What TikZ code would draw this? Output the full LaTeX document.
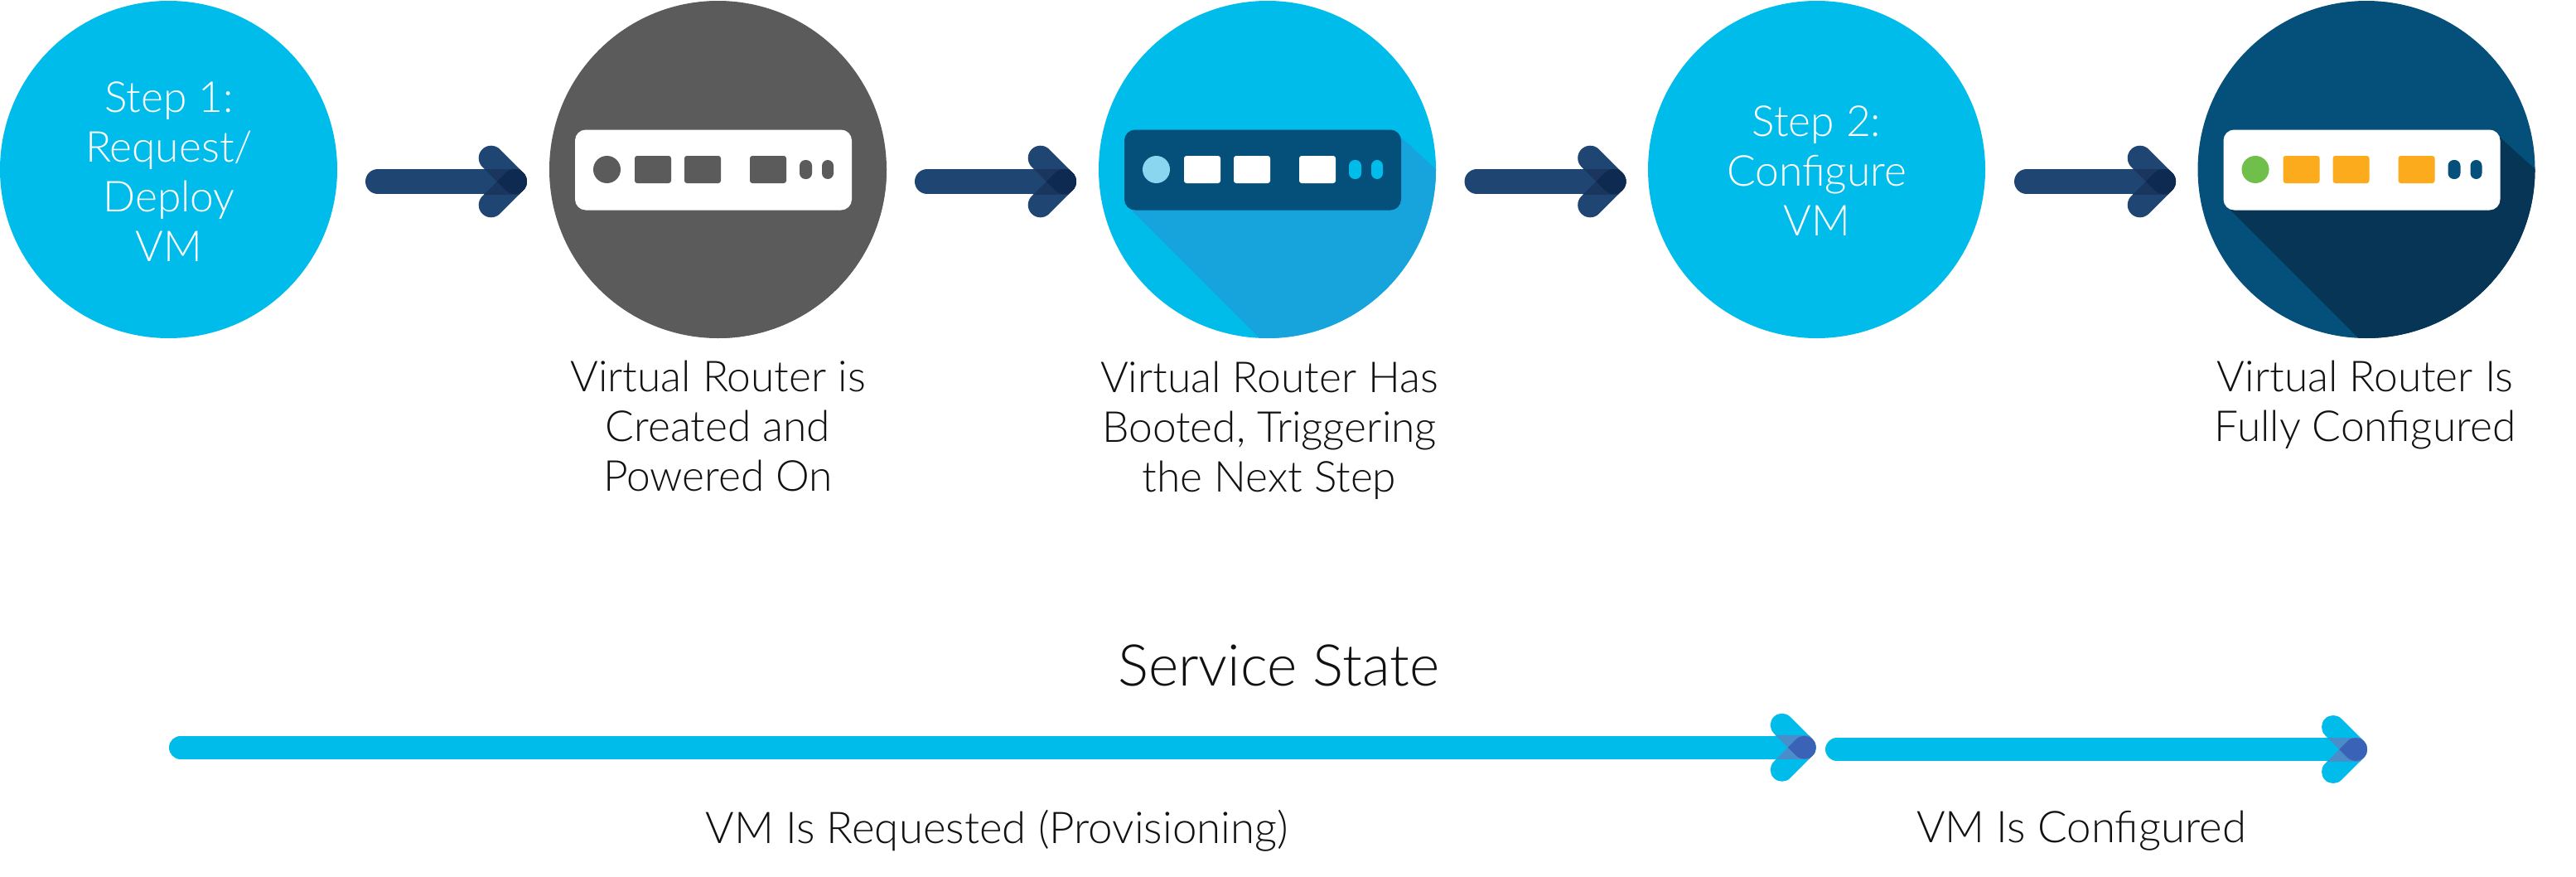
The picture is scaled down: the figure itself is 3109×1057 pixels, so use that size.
\documentclass[tikz,border=0pt]{standalone}
\usepackage{fontspec}
\setmainfont{Lato Light}
\usetikzlibrary{calc}
\definecolor{ciscyan}{HTML}{00BCEB}
\definecolor{cisgrey}{HTML}{5A5B5A}
\definecolor{cisdeep}{HTML}{04507A}
\definecolor{shadecyan}{HTML}{17A3DC}
\definecolor{shadedeep}{HTML}{073555}
\definecolor{ledpale}{HTML}{8AD5F0}
\definecolor{portorange}{HTML}{FCAB1C}
\definecolor{ledgreen}{HTML}{70BF4B}
\definecolor{navyarrow}{HTML}{1F4573}
\definecolor{navymid}{HTML}{1A365F}
\definecolor{navydark}{HTML}{0F2A50}
\definecolor{cyanmid}{HTML}{4A8DCB}
\definecolor{cyandark}{HTML}{3A63B8}
\definecolor{captionink}{HTML}{111111}
\tikzset{
  stepcircle/.style={circle,inner sep=0pt,minimum size=407pt},
  steptext/.style={align=center,text=white,inner sep=0pt,font=\fontsize{51.5}{60}\selectfont},
  captiontext/.style={align=center,text=captionink,inner sep=0pt,font=\fontsize{51.5}{60}\selectfont},
  statetext/.style={text=captionink,inner sep=0pt,font=\fontsize{52.8}{60}\selectfont},
}
% #1 circle name, #2 shadow, #3 body, #4 led, #5 port, #6 pill
\newcommand{\routerglyph}[6]{%
  \begin{scope}
    \clip (#1) circle (203.5);
    \fill[#2] ($(#1)+(-172,-14)$) -- ($(#1)+(-164,-49)$) -- ($(#1)+(-9,-204)$) -- ($(#1)+(210,-204)$) -- ($(#1)+(210,0)$) -- ($(#1)+(204,0)$) -- ($(#1)+(160,40)$) -- cycle;
  \end{scope}
  \fill[#3,rounded corners=13pt] ($(#1)+(-172.5,48)$) rectangle ($(#1)+(161.5,-49)$);
  \fill[#4] ($(#1)+(-134,0)$) circle (16.5);
  \fill[#5,rounded corners=3pt] ($(#1)+(-100.5,16.5)$) rectangle ($(#1)+(-56.5,-16.5)$);
  \fill[#5,rounded corners=3pt] ($(#1)+(-40.5,16.5)$) rectangle ($(#1)+(3.5,-16.5)$);
  \fill[#5,rounded corners=3pt] ($(#1)+(38.5,16.5)$) rectangle ($(#1)+(82.5,-16.5)$);
  \fill[#6,rounded corners=7pt] ($(#1)+(98.5,11.5)$) rectangle ($(#1)+(113.5,-11.5)$);
  \fill[#6,rounded corners=7pt] ($(#1)+(125.5,11.5)$) rectangle ($(#1)+(139.5,-11.5)$);
}
% #1 start, #2 tip centre, #3 half width, #4 chevron reach, #5 base, #6 mid, #7 dark
\newcommand{\flowarrow}[7]{%
  \pgfmathsetmacro{\arrA}{0.7071*#3}
  \pgfmathsetmacro{\arrB}{1.4142*#3}
  \pgfmathsetmacro{\arrW}{2*#3}
  \draw[#5,line width=\arrW pt,line cap=round,line join=round] (#1) -- (#2);
  \draw[#5,line width=\arrW pt,line cap=round,line join=round] ($(#2)+(-#4,#4)$) -- (#2) -- ($(#2)+(-#4,-#4)$);
  \begin{scope}
    \clip ($(#2)+(-60,-#3)$) rectangle ($(#2)+(#3,#3)$);
    \draw[#6,line width=\arrW pt,line cap=round,line join=round] ($(#2)+(-#4,#4)$) -- (#2) -- ($(#2)+(-#4,-#4)$);
  \end{scope}
  \fill[#7] ($(#2)+(-\arrB,0)$) -- ($(#2)+(-\arrA,\arrA)$) arc[start angle=135,end angle=-135,radius=#3] -- cycle;
}
\begin{document}
\begin{tikzpicture}[x=1pt,y=1pt]
\useasboundingbox (0,0) rectangle (3109,-1057);
% circles
\node[stepcircle,fill=ciscyan] (c1) at (203.5,-204.5) {};
\node[stepcircle,fill=cisgrey] (c2) at (866.5,-204.5) {};
\node[stepcircle,fill=ciscyan] (c3) at (1529.5,-204.5) {};
\node[stepcircle,fill=ciscyan] (c4) at (2192.5,-204.5) {};
\node[stepcircle,fill=cisdeep] (c5) at (2856,-204.5) {};
\node[steptext] (s1) at (204,-207.5) {Step 1:\\Request/\\Deploy\\VM};
\node[steptext] (s2) at (2192.5,-206.5) {Step 2:\\Configure\\VM};
\routerglyph{c2}{cisgrey}{white}{cisgrey}{cisgrey}{cisgrey}
\routerglyph{c3}{shadecyan}{cisdeep}{ledpale}{white}{ciscyan}
\routerglyph{c5}{shadedeep}{white}{ledgreen}{portorange}{cisdeep}
% top arrows
\coordinate (a1s) at (456,-219);
\coordinate (a1e) at (621,-219);
\coordinate (a2s) at (1119,-219);
\coordinate (a2e) at (1284,-219);
\coordinate (a3s) at (1782.5,-219);
\coordinate (a3e) at (1947.5,-219);
\coordinate (a4s) at (2446,-219);
\coordinate (a4e) at (2611,-219);
\flowarrow{a1s}{a1e}{15}{28.3}{navyarrow}{navymid}{navydark}
\flowarrow{a2s}{a2e}{15}{28.3}{navyarrow}{navymid}{navydark}
\flowarrow{a3s}{a3e}{15}{28.3}{navyarrow}{navymid}{navydark}
\flowarrow{a4s}{a4e}{15}{28.3}{navyarrow}{navymid}{navydark}
% captions
\node[captiontext] (t2) at (866.5,-514) {Virtual Router is\\Created and\\Powered On};
\node[captiontext] (t3) at (1532,-519) {Virtual Router Has\\Booted, Triggering\\the Next Step};
\node[captiontext] (t5) at (2854.5,-489) {Virtual Router Is\\Fully Configured};
% service state
\node[text=captionink,inner sep=0pt,font=\fontsize{69.5}{80}\selectfont] (title) at (1543,-803) {Service State};
\coordinate (b1s) at (218,-901.7);
\coordinate (b1e) at (2177.7,-901.7);
\coordinate (b2s) at (2217,-904);
\coordinate (b2e) at (2843,-904);
\flowarrow{b1s}{b1e}{14}{27}{ciscyan}{cyanmid}{cyandark}
\flowarrow{b2s}{b2e}{14}{27}{ciscyan}{cyanmid}{cyandark}
\node[statetext] (l1) at (1203,-1002) {VM Is Requested (Provisioning)};
\node[statetext] (l2) at (2512,-1002) {VM Is Configured};
\end{tikzpicture}
\end{document}
